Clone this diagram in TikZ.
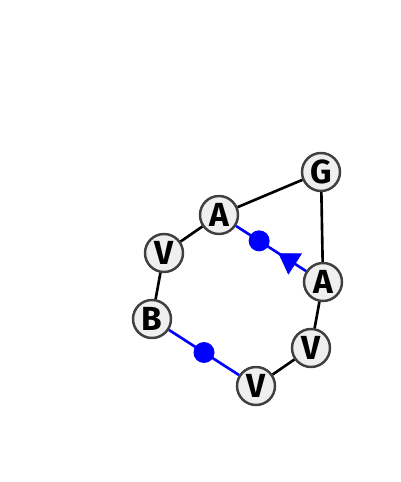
\documentclass[tikz,border=0pt]{standalone}
\usepackage{fontspec}
\setmainfont{Fira Sans}
\usepackage{tikz}
\usetikzlibrary{positioning,calc,arrows.meta,decorations.markings}

\definecolor{nodefill}{HTML}{EFEFEF}
\definecolor{nodeline}{HTML}{404040}

\tikzset{
  atom/.style={circle,draw=nodeline,fill=nodefill,line width=1.4pt,minimum size=0.76cm,inner sep=0pt,
    font=\fontsize{19}{19}\selectfont\bfseries},
  bond/.style={line width=1.5pt,black},
  bluebond/.style={line width=1.5pt,blue},
  bluedot/.style={circle,fill=blue,minimum size=0.42cm,inner sep=0pt}
}

\begin{document}
\begin{tikzpicture}[x=0.02cm,y=-0.02cm]
    \useasboundingbox (0,0) rectangle (400,482);
    % atoms
    \node[atom] (g)  at (321,172) {G};
    \node[atom] (a1) at (219,215) {A};
    \node[atom] (v1) at (164,253) {V};
    \node[atom] (b)  at (152,319) {B};
    \node[atom] (v2) at (256,386) {V};
    \node[atom] (v3) at (311,348) {V};
    \node[atom] (a2) at (323,282) {A};
    % bonds
    \draw[bond] (g) -- (a1);
    \draw[bond] (g) -- (a2);
    \draw[bond] (a1) -- (v1);
    \draw[bond] (v1) -- (b);
    \draw[bond] (v2) -- (v3);
    \draw[bond] (v3) -- (a2);
    \draw[bluebond] (a1) -- (a2);
    \draw[bluebond] (b) -- (v2);
    \path[decorate,decoration={markings,mark=at position 0.43 with {\arrow{Triangle[length=0.4cm,width=0.5cm,blue]}}}]
        (a2.center) -- (a1.center);
    \node[bluedot] (d1) at ($(a1.center)!0.386!(a2.center)$) {};
    \node[bluedot] (d2) at ($(b.center)!0.5!(v2.center)$) {};
\end{tikzpicture}
\end{document}
